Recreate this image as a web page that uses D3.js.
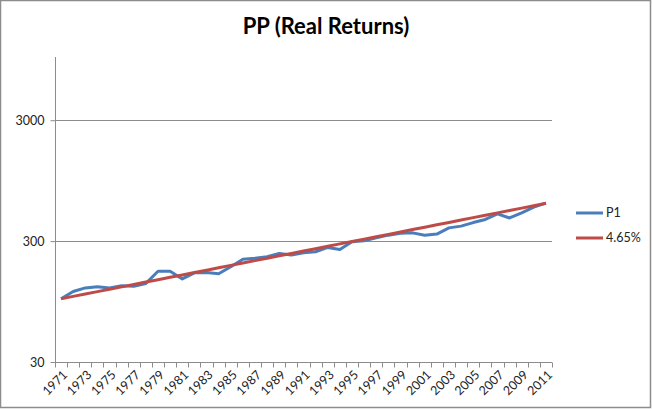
<!DOCTYPE html>
<html><head><meta charset="utf-8">
<script src="https://cdn.jsdelivr.net/npm/d3@7"></script>
<style>body{margin:0;background:#fff}svg{display:block}</style>
</head><body><svg id="c" width="652" height="411"></svg>
<script>
const years = [1971,1972,1973,1974,1975,1976,1977,1978,1979,1980,1981,1982,1983,1984,1985,1986,1987,1988,1989,1990,1991,1992,1993,1994,1995,1996,1997,1998,1999,2000,2001,2002,2003,2004,2005,2006,2007,2008,2009,2010,2011];
const p1 = [100,115,123,126,123,128,127,134,169,169,146,164,165,161,184,212,216,223,237,230,240,245,266,256,296,302,319,336,349,351,336,343,386,399,427,453,504,466,513,573,618];
const trend = [100,104.7,109.5,114.6,119.9,125.5,131.4,137.5,143.9,150.5,157.5,164.9,172.5,180.6,189.0,197.7,206.9,216.6,226.6,237.2,248.2,259.7,271.8,284.5,297.7,311.5,326.0,341.2,357.0,373.6,391.0,409.2,428.2,448.1,469.0,490.8,513.6,537.5,562.5,588.6,616.0];
const yTicks = [30,300,3000];
const seriesNames = ["P1","4.65%"];
const title = "PP (Real Returns)";

const svg = d3.select("#c");
const font = "Lato, 'Open Sans', sans-serif";
svg.append("rect").attr("x",0.5).attr("y",0.5).attr("width",650).attr("height",407)
  .attr("fill","#fff").attr("stroke","#8c8c8c").attr("stroke-width",1.5);

const L=55,R=552,T=57,B=362;
const x = d3.scaleBand().domain(years).range([L,R]);
const y = d3.scaleLog().domain([30,10000]).range([B,T]);

// gridlines
svg.append("g").selectAll("line").data(yTicks.slice(1)).join("line")
  .attr("x1",L).attr("x2",R).attr("y1",d=>Math.round(y(d))+0.5).attr("y2",d=>Math.round(y(d))+0.5)
  .attr("stroke","#8c8c8c").attr("stroke-width",1);

// y axis
const ya = svg.append("g").attr("transform",`translate(${L+0.5},0)`)
  .call(d3.axisLeft(y).tickValues(yTicks).tickFormat(d3.format("d")).tickSize(5).tickPadding(6));
ya.select(".domain").attr("stroke","#8c8c8c").attr("d",`M-0,${B}V${T}`);
ya.selectAll(".tick line").attr("stroke","#8c8c8c");
ya.selectAll("text").attr("font-family",font).attr("font-size",12.5).attr("fill","#222");

// x axis
const xa = svg.append("g").attr("transform",`translate(0,${B+0.5})`);
xa.append("line").attr("x1",L).attr("x2",R).attr("stroke","#8c8c8c");
const bounds = years.map(d=>x(d)).concat([R]);
xa.selectAll("line.t").data(bounds).join("line").attr("class","t")
  .attr("x1",d=>Math.round(d)+0.5).attr("x2",d=>Math.round(d)+0.5).attr("y1",0).attr("y2",5).attr("stroke","#8c8c8c");
xa.selectAll("text").data(years.filter((d,i)=>i%2===0)).join("text")
  .attr("transform",d=>`translate(${x(d)+x.bandwidth()/2+4},${10}) rotate(-45)`)
  .attr("text-anchor","end").attr("dy","0.35em")
  .attr("font-family",font).attr("font-size",12.5).attr("fill","#222").text(d=>d);

// lines
const line = d3.line().x((d,i)=>x(years[i])+x.bandwidth()/2).y(d=>y(d));
svg.append("path").datum(p1).attr("d",line).attr("fill","none").attr("stroke","#4a7ebb").attr("stroke-width",3).attr("stroke-linejoin","round");
svg.append("path").datum(trend).attr("d",line).attr("fill","none").attr("stroke","#be4b48").attr("stroke-width",3).attr("stroke-linejoin","round");

// title
svg.append("text").attr("x",326).attr("y",34).attr("text-anchor","middle")
  .attr("font-family",font).attr("font-weight","bold").attr("font-size",22).attr("fill","#000").text(title);

// legend
const colors=["#4a7ebb","#be4b48"];
const lg = svg.append("g");
seriesNames.forEach((n,i)=>{
  const yy = 213 + i*25;
  lg.append("line").attr("x1",576).attr("x2",603).attr("y1",yy).attr("y2",yy).attr("stroke",colors[i]).attr("stroke-width",3);
  lg.append("text").attr("x",606).attr("y",yy).attr("dy","0.35em").attr("font-family",font).attr("font-size",12.5).attr("fill","#222").text(n);
});
</script></body></html>
